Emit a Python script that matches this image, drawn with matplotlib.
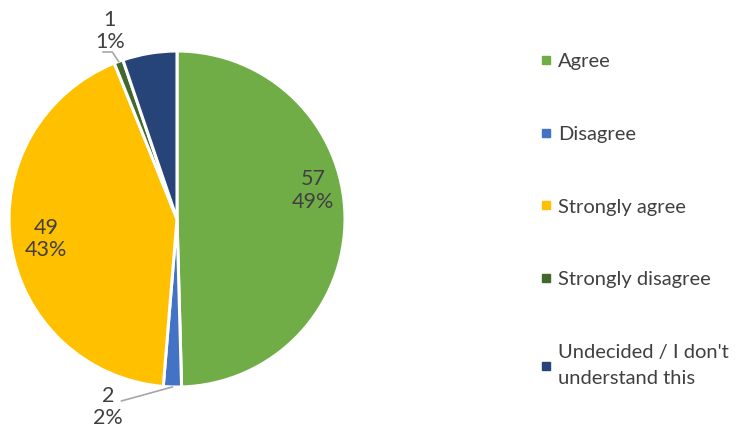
import numpy as np
import matplotlib
matplotlib.use("Agg")
import matplotlib.pyplot as plt
from matplotlib.lines import Line2D

# Survey answers (counts) and the percentage labels shown on the chart
categories = ["Agree", "Disagree", "Strongly agree", "Strongly disagree",
              "Undecided / I don't\nunderstand this"]
counts = [57, 2, 49, 1, 6]
pct_labels = ["49%", "2%", "43%", "1%", "5%"]
show_label = [True, True, True, True, False]

colors = ["#70AD47", "#4472C4", "#FFC000", "#43682B", "#264478"]
text_color = "#404040"

plt.rcParams['font.family'] = ['Lato', 'DejaVu Sans']

fig = plt.figure(figsize=(7.45, 4.34), dpi=100)

# pie axes: centre at (177, 219) px, radius 168 px
R = 168.0
lim = 1.2
w_px = 2 * lim * R
ax = fig.add_axes([(177 - w_px / 2) / 745, (434 - 219 - w_px / 2) / 434,
                   w_px / 745, w_px / 434])

wedges, _ = ax.pie(counts, colors=colors, startangle=90, counterclock=False,
                   radius=1.0, wedgeprops=dict(edgecolor="white", linewidth=2.2))
ax.set_xlim(-lim, lim)
ax.set_ylim(-lim, lim)
ax.set_aspect("equal")
ax.axis("off")

# label placement: (x, y) of label centre, and optional leader line end
label_pos = [(0.81, 0.17), (-0.41, -1.12), (-0.78, -0.12), (-0.40, 1.12), (0, 0)]
leader = [None, [(-0.33, -1.083)], None, [(-0.385, 0.994), (-0.44, 0.994)], None]

for i, w in enumerate(wedges):
    if not show_label[i]:
        continue
    x, y = label_pos[i]
    ax.text(x, y, "%d\n%s" % (counts[i], pct_labels[i]), ha="center", va="center",
            fontsize=15.5, color=text_color, linespacing=1.15)
    if leader[i] is not None:
        ang = np.deg2rad((w.theta1 + w.theta2) / 2)
        pts = [(np.cos(ang), np.sin(ang))] + leader[i]
        xs, ys = zip(*pts)
        ax.plot(xs, ys, color="#A6A6A6", lw=1.2, clip_on=False)

handles = [Line2D([0], [0], marker="s", linestyle="none", markersize=6,
                  markerfacecolor=c, markeredgecolor=c) for c in colors]
leg = fig.legend(handles, categories, loc="upper left",
                 bbox_to_anchor=(531 / 745, 1 - 43 / 434), frameon=False,
                 fontsize=14.5, labelcolor=text_color, labelspacing=2.76,
                 handlelength=0.45, handletextpad=0.4, borderpad=0)
for t in leg.get_texts():
    t.set_linespacing(1.68)

fig.savefig("out.png", dpi=100, facecolor="white")
